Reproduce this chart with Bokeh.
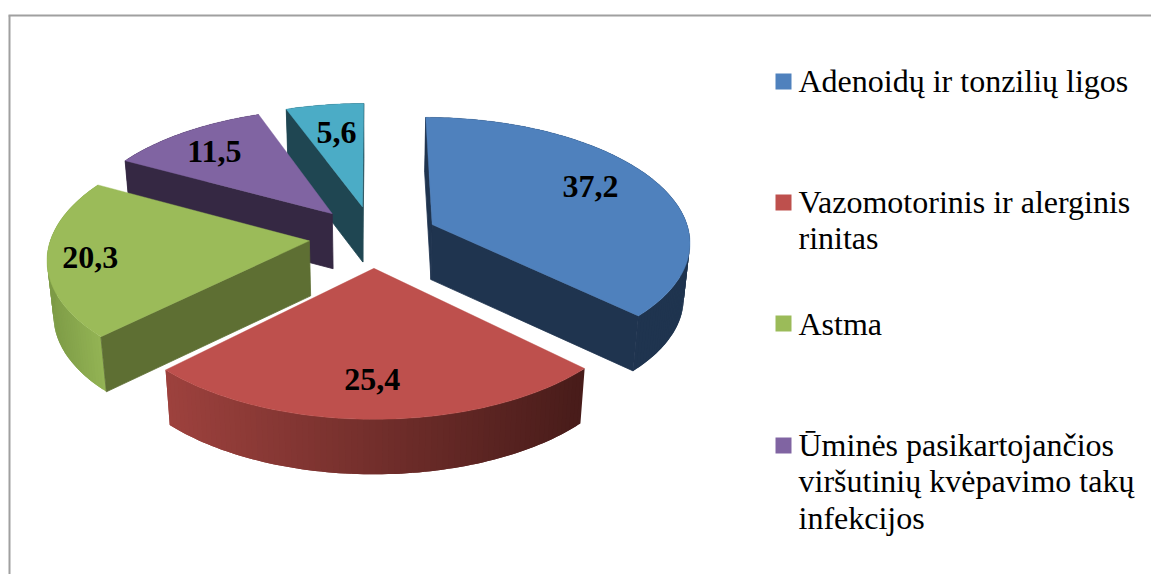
import numpy as np
from bokeh.plotting import figure
from bokeh.models import Range1d
from bokeh.core.properties import value
from bokeh.embed import file_html
from bokeh.resources import INLINE

categories = ["Adenoidų ir tonzilių ligos", "Vazomotorinis ir alerginis rinitas", "Astma",
              "Ūminės pasikartojančios viršutinių kvėpavimo takų infekcijos", "Kita"]
values = [37.2, 25.4, 20.3, 11.5, 5.6]
value_labels = ["37,2", "25,4", "20,3", "11,5", "5,6"]
legend_lines = [["Adenoidų ir tonzilių ligos"],
                ["Vazomotorinis ir alerginis", "rinitas"],
                ["Astma"],
                ["Ūminės pasikartojančios", "viršutinių kvėpavimo takų", "infekcijos"]]

# styles
top_colors = ["#4F81BD", "#BE504D", "#9BBB59", "#8064A2", "#4BACC6"]
inner_colors = ["#1F344F", "#7A2F2D", "#5E6F33", "#352843", "#1F4652"]
wall_left = [(31, 52, 79), (158, 66, 62), (125, 155, 70), (53, 40, 67), (31, 70, 82)]
wall_right = [(31, 52, 79), (72, 28, 26), (148, 180, 85), (53, 40, 67), (31, 70, 82)]
label_r = [0.67, 0.76, 0.86, 0.70, 0.58]
label_dx = [8, -3, 6, -12, -3]
label_dy = [-7, 0, 1, -4, -13]

CX, CY, R, A, K, EXPL, DEPTH, SHRINK = 373, 236, 258, 123.4, 0.125, 0.25, 55, 0.98
W, H = 1151, 574
SERIF = value("Liberation Serif")

p = figure(width=W, height=H, x_range=Range1d(0, W), y_range=Range1d(H, 0),
           output_backend="svg", toolbar_location=None, min_border=0)
p.axis.visible = False
p.grid.visible = False
p.outline_line_color = None
p.background_fill_color = "white"
p.border_fill_color = "white"

# frame
p.line([8, W], [15, 15], line_color="#A0A0A0", line_width=2)
p.line([9, 9], [15, H], line_color="#A0A0A0", line_width=2)


def project(X, V):
    s = 1 / (1 - K * V)
    return CX + R * s * X, CY + A * s * V


def lower(x, y):
    return CX + (np.asarray(x) - CX) * SHRINK, np.asarray(y) + DEPTH


total = sum(values)
edges = np.concatenate([[0], np.cumsum(values)]) / total * 2 * np.pi

order = [4, 3, 0, 2, 1]  # back to front
for i in order:
    a0, a1 = edges[i], edges[i + 1]
    mid = (a0 + a1) / 2
    ex, ev = EXPL * np.sin(mid), -EXPL * np.cos(mid)
    th = np.linspace(a0, a1, max(8, int((a1 - a0) * 50)))
    ax, ay = project(ex, ev)
    rx, ry = project(ex + np.sin(th), ev - np.cos(th))
    # rounded face: strip by strip, each overlapping the next so no seams show
    lx, ly = lower(rx, ry)
    lo, hi = rx.min(), rx.max()
    xs, ys, cs = [], [], []
    for j in range(len(th) - 1):
        f = ((rx[j] + rx[j + 1]) / 2 - lo) / (hi - lo)
        c = tuple(int(u + (w - u) * f) for u, w in zip(wall_left[i], wall_right[i]))
        seg = list(range(j, min(j + 3, len(th))))
        xs.append(list(rx[seg]) + list(lx[seg][::-1]))
        ys.append(list(ry[seg]) + list(ly[seg][::-1]))
        cs.append("#%02x%02x%02x" % c)
    p.patches(xs, ys, fill_color=cs, line_color=None)
    # flat faces from the apex to the slice's ends, only those that face the viewer
    for k, facing in ((0, -np.sin(a0)), (-1, np.sin(a1))):
        if facing < -1e-6:
            continue
        bx, by = lower([ax, rx[k]], [ay, ry[k]])
        p.patch([ax, rx[k], bx[1], bx[0]], [ay, ry[k], by[1], by[0]],
                fill_color=inner_colors[i], line_color=inner_colors[i], line_width=0.8)
    p.patch(np.r_[ax, rx], np.r_[ay, ry], fill_color=top_colors[i], line_color=top_colors[i], line_width=0.4)

# data labels
for i, lab in enumerate(value_labels):
    mid = (edges[i] + edges[i + 1]) / 2
    r = EXPL + label_r[i]
    x, y = project(r * np.sin(mid), -r * np.cos(mid))
    p.text([x + label_dx[i]], [y + label_dy[i]], text=[lab], text_font=SERIF, text_font_size="32px",
           text_font_style="bold", text_color="black", text_align="center", text_baseline="middle")

# legend
swatch_y = [81, 202, 323, 445]
first_base = [91, 212, 334, 455]
LINE = 36.5
TEXT_SHIFT = -11
for i, lines in enumerate(legend_lines):
    p.rect([783], [swatch_y[i]], width=16, height=16, fill_color=top_colors[i], line_color=None)
    for n, t in enumerate(lines):
        p.text([798], [first_base[i] + n * LINE + TEXT_SHIFT], text=[t], text_font=SERIF,
               text_font_size="32px", text_color="black", text_align="left", text_baseline="alphabetic")

open("out.html", "w").write(file_html(p, INLINE))
